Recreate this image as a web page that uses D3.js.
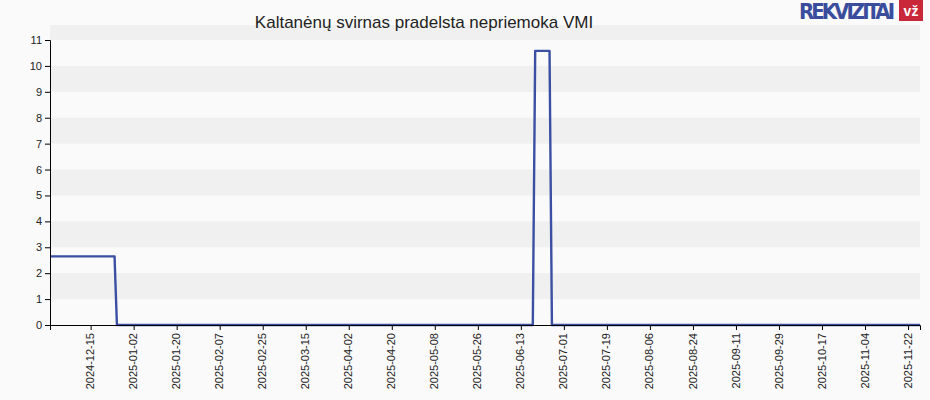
<!DOCTYPE html>
<html><head><meta charset="utf-8">
<script src="https://cdn.jsdelivr.net/npm/d3@7"></script>
<style>body{margin:0;background:#fafafa;font-family:"Liberation Sans",Arial,sans-serif}</style>
</head><body><div id="chart"></div>
<script>
var dates = ["2024-11-28","2024-12-25","2024-12-26","2025-06-18","2025-06-19","2025-06-25","2025-06-26","2025-11-27"];
var values = [2.65,2.65,0,0,10.58,10.58,0,0];
var yTicks = d3.range(0,12);
var title = "Kaltanėnų svirnas pradelsta nepriemoka VMI";

var parse = d3.timeParse("%Y-%m-%d"), fmt = d3.timeFormat("%Y-%m-%d");
var data = dates.map(function(d,i){return {d:parse(d), v:values[i]};});
var tickDates = d3.range(0,20).map(function(i){return d3.timeDay.offset(parse("2024-12-15"), i*18);});

var svg = d3.select("#chart").append("svg").attr("width",930).attr("height",400);
var x = d3.scaleTime().domain([parse(dates[0]), parse(dates[dates.length-1])]).range([50,920]);
var y = d3.scaleLinear().domain([0,11]).range([325,40]);

// bands
svg.append("rect").attr("x",50).attr("y",25).attr("width",870).attr("height",y(11)-25).attr("fill","#f0f0f0");
svg.selectAll(".band").data([1,3,5,7,9]).enter().append("rect")
  .attr("x",50).attr("y",function(d){return y(d+1);}).attr("width",870)
  .attr("height",function(d){return y(d)-y(d+1);}).attr("fill","#f0f0f0");

var line = d3.line().x(function(d){return x(d.d);}).y(function(d){return y(d.v);});
svg.append("path").datum(data).attr("d",line).attr("fill","none")
  .attr("stroke","#3b4fa3").attr("stroke-width",2.4).attr("stroke-linejoin","round");

var ya = svg.append("g").attr("transform","translate(50,0)")
  .call(d3.axisLeft(y).tickValues(yTicks).tickSize(5).tickFormat(d3.format("d")));
ya.selectAll("text").attr("font-size",11).attr("fill","#222").attr("font-family","Liberation Sans, Arial");
var xa = svg.append("g").attr("transform","translate(0,325)")
  .call(d3.axisBottom(x).tickValues(tickDates).tickSize(5).tickFormat(fmt));
xa.selectAll("text").attr("font-size",11).attr("fill","#222").attr("font-family","Liberation Sans, Arial")
  .attr("transform","rotate(-90)").attr("text-anchor","end").attr("dx","-8").attr("dy","-0.45em");
svg.selectAll(".domain,.tick line").attr("stroke","#000");

svg.append("text").attr("x",424).attr("y",28).attr("text-anchor","middle")
  .attr("font-size",17).attr("fill","#222").text(title);

// logo
svg.append("text").attr("x",895).attr("y",19).attr("text-anchor","end").attr("font-size",22)
  .attr("font-weight","bold").attr("fill","#3a4d9c").attr("font-family","DejaVu Sans Condensed, Liberation Sans Narrow")
  .attr("textLength",96).text("REKVIZITAI");
svg.append("rect").attr("x",899).attr("y",0).attr("width",24).attr("height",21).attr("fill","#c8283a");
svg.append("text").attr("x",911).attr("y",16).attr("text-anchor","middle").attr("font-size",14)
  .attr("font-weight","bold").attr("fill","#fff").text("vž");
</script></body></html>
